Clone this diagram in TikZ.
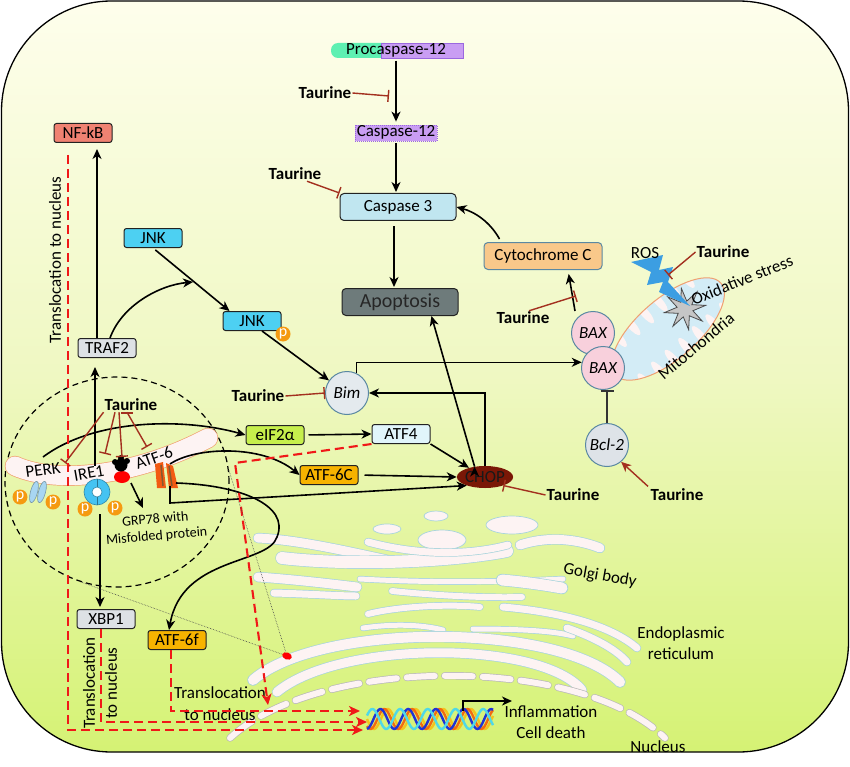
\documentclass[tikz,border=0pt]{standalone}
\usepackage{fontspec}
\setmainfont{Carlito}
\usetikzlibrary{arrows.meta,shapes.geometric}

\definecolor{cellTop}{HTML}{FEFEEC}
\definecolor{cellMid}{HTML}{EFF8C2}
\definecolor{cellBot}{HTML}{D5F274}
\definecolor{boxline}{HTML}{222222}
\definecolor{inhib}{HTML}{A3301F}
\definecolor{tred}{HTML}{F01818}
\definecolor{nfkb}{HTML}{F08272}
\definecolor{greybox}{HTML}{DDE1E5}
\definecolor{jnk}{HTML}{4DD0F2}
\definecolor{porange}{HTML}{F59A10}
\definecolor{casp3}{HTML}{C0E6F0}
\definecolor{apop}{HTML}{6E7B7B}
\definecolor{cytc}{HTML}{F9C88A}
\definecolor{molline}{HTML}{5A88A2}
\definecolor{bax}{HTML}{F8D0DC}
\definecolor{bcl}{HTML}{DEE3E8}
\definecolor{bim}{HTML}{E4EAEE}
\definecolor{chop}{HTML}{7A1706}
\definecolor{eif}{HTML}{C6EF4C}
\definecolor{atf4}{HTML}{E1F5FB}
\definecolor{atf6}{HTML}{F7B300}
\definecolor{procgreen}{HTML}{5EF0B2}
\definecolor{procpurple}{HTML}{C99DF3}
\definecolor{procline}{HTML}{9B68DF}
\definecolor{golgifill}{HTML}{FDF3F3}
\definecolor{golgiline}{HTML}{A8D4DC}
\definecolor{erline}{HTML}{F0A070}
\definecolor{mito}{HTML}{D3ECF6}
\definecolor{rosblue}{HTML}{3C9EE2}
\definecolor{perkblue}{HTML}{A8D6F2}
\definecolor{ireblue}{HTML}{45C3F2}
\definecolor{atforange}{HTML}{F25A12}
\definecolor{strandY}{HTML}{F5C21B}
\definecolor{strandO}{HTML}{F26A10}
\definecolor{strandB}{HTML}{1F32D6}
\definecolor{strandC}{HTML}{4FD8E8}

\tikzset{
  >={Stealth[length=10pt,width=9pt,inset=3pt]},
  base font/.style={font=\fontsize{17}{19}\selectfont},
  gene/.style={base font, draw=boxline, line width=1pt, fill=#1,
               rounded corners=2.5pt, minimum width=58pt,
               minimum height=19pt, inner sep=1pt},
  gene/.default=white,
  big gene/.style={gene=#1, minimum width=116pt, minimum height=27pt,
               rounded corners=4pt},
  molecule/.style={circle, draw=molline, line width=1pt, fill=#1,
               minimum size=43pt, inner sep=0pt,
               font=\fontsize{17}{19}\selectfont\itshape},
  taurine/.style={font=\fontsize{17}{19}\selectfont\bfseries, inner sep=1pt},
  phospho/.style={circle, fill=porange, text=white, inner sep=0pt,
               minimum size=15pt, font=\fontsize{16}{16}\selectfont},
  note/.style={base font, inner sep=0pt, align=center},
  act/.style={->, line width=1.6pt, draw=black},
  promote/.style={->, line width=1.4pt, draw=inhib},
  inhibit/.style={-{Bar[width=12pt]}, line width=1.4pt, draw=inhib},
  block/.style={-{Bar[width=13pt]}, line width=1.5pt, draw=black!80},
  transloc/.style={-{Stealth[length=11pt,width=10pt,inset=3pt]}, draw=tred,
               line width=2.1pt, dash pattern=on 9pt off 5pt},
  cisterna/.style={draw=golgiline, double=golgifill, double distance=#1,
               line width=0.7pt, line cap=round},
}

\begin{document}
\begin{tikzpicture}[x=1pt,y=-1pt]
\useasboundingbox (0,0) rectangle (850,767);
% cell
\path[top color=cellTop, bottom color=cellBot, middle color=cellMid,
      rounded corners=110pt] (1.5,1) rectangle (848.5,752);
\draw[line width=1.3pt, rounded corners=110pt] (1.5,1) rectangle (848.5,752);

% golgi body
\foreach \gx/\gy/\rx/\ry in {436/516/12/5, 387/529/14/5, 442/540/24/10, 512/525/26/9}
  \filldraw[fill=golgifill, draw=golgiline, line width=0.7pt]
    (\gx,\gy) ellipse [x radius=\rx pt, y radius=\ry pt];
\draw[cisterna=9pt] (258,538) .. controls (300,540) and (350,552) .. (397,562);
\draw[cisterna=12pt] (282,558) .. controls (350,566) and (450,562) .. (507,551);
\draw[cisterna=7pt] (368,542) .. controls (420,556) and (470,555) .. (508,545);
\draw[cisterna=9pt] (520,545) .. controls (550,535) and (580,540) .. (600,548);
\draw[cisterna=9pt] (258,577) .. controls (300,580) and (340,585) .. (357,587);
\draw[cisterna=5pt] (360,579) .. controls (430,583) and (500,582) .. (563,579);
\draw[cisterna=7pt] (274,593) .. controls (310,594) and (340,596) .. (356,596);
\draw[cisterna=6pt] (392,591) .. controls (440,596) and (490,598) .. (522,597);
\draw[cisterna=11pt] (502,580) .. controls (525,582) and (545,585) .. (562,588);
% endoplasmic reticulum
\draw[cisterna=6pt] (368,614) .. controls (400,606) and (450,604) .. (480,607);
\draw[cisterna=7pt] (503,607) .. controls (560,612) and (610,625) .. (637,648);
\draw[cisterna=5pt] (363,628) .. controls (390,624) and (420,624) .. (443,630);
\draw[cisterna=5pt] (473,629) .. controls (510,629) and (550,630) .. (573,636);
\draw[cisterna=7pt] (567,628) .. controls (590,636) and (615,648) .. (627,662);
\draw[cisterna=10pt] (253,680) .. controls (320,622) and (560,622) .. (620,682);
\draw[cisterna=9pt] (277,692) .. controls (340,640) and (540,640) .. (582,690);
% nucleus
\draw[cisterna=6pt, draw=gray!55, dash pattern=on 28pt off 10pt]
  (230,738) .. controls (320,655) and (580,655) .. (665,738);
\foreach \col/\ph in {strandY/0, strandO/45, strandB/95, strandC/200}
  \draw[\col, line width=2.4pt]
    plot[domain=367:493, samples=90] (\x, {719+10*sin(13*(\x-367)+\ph)});
\coordinate (DNAa) at (360,711);
\coordinate (DNAb) at (367,722);
\coordinate (DNAc) at (363,730);
\coordinate (Gene) at (463,711);
\node[ellipse, fill=red, minimum width=10pt, minimum height=7pt,
      inner sep=0pt, rotate=-20] (ERdot) at (287,656) {};

% mitochondria
\begin{scope}[shift={(668,329)}, rotate=41]
  \fill[mito] (0,0) ellipse [x radius=70pt, y radius=30pt];
  \begin{scope}
    \clip (0,0) ellipse [x radius=70pt, y radius=30pt];
    \foreach \u in {-52,-34,...,56}
      \fill[golgifill] (\u,27) ellipse [x radius=4pt, y radius=13pt];
    \foreach \u in {-43,-25,...,47}
      \fill[golgifill] (\u,-27) ellipse [x radius=4pt, y radius=13pt];
  \end{scope}
  \draw[erline, line width=1pt] (0,0) ellipse [x radius=70pt, y radius=30pt];
\end{scope}
\node[star, star points=8, star point ratio=2.6, fill=gray!45,
      draw=gray!60!black, line width=0.8pt, minimum size=42pt,
      inner sep=0pt, rotate=10] (Stress) at (685,309) {};
\fill[rosblue] (631,262) -- (663,255) -- (659,270) -- (673,267) -- (668,282)
  -- (690,306) -- (659,292) -- (663,282) -- (647,285) -- (651,272) -- cycle;

% ER stress sensors
\node[ellipse, draw, dash pattern=on 6pt off 4pt, line width=1.2pt,
      minimum width=224pt, minimum height=210pt, inner sep=0pt] (Zoom) at (117,482) {};
\draw[cisterna=19pt, draw=erline] (15,466) .. controls (60,486) and (140,474) .. (208,438);
\foreach \px in {34,42}
  \filldraw[fill=perkblue, draw=perkblue!70!black, line width=0.6pt,
            rotate around={-15:(\px,492)}] (\px,492) ellipse [x radius=3.5pt, y radius=11pt];
\filldraw[fill=ireblue, draw=ireblue!70!black, line width=0.6pt] (97,492) circle [radius=13pt];
\filldraw[fill=white, draw=ireblue!70!black, line width=0.6pt] (97,492) circle [radius=5pt];
\draw[ireblue!60!black, line width=0.6pt] (97,479) -- (97,487) (97,497) -- (97,505);
\fill[red] (122,477) ellipse [x radius=8pt, y radius=6pt];
\fill[black] (121,465) circle [radius=6.5pt] (115,462) circle [radius=3pt]
  (127,461) circle [radius=3pt] (121,458) circle [radius=3pt];
\fill[atforange] (155,464) -- (163,462) -- (166,488) -- (157,488) -- cycle;
\fill[atforange] (166,463) -- (173,466) -- (178,488) -- (169,488) -- cycle;
\draw[brown!70!black, line width=1.5pt] (161,465) -- (163,486) (169,466) -- (172,486);
\node[phospho] (P1) at (20,497) {p};
\node[phospho] (P2) at (53,502) {p};
\node[phospho] (P3) at (85,509) {p};
\node[phospho] (P4) at (115,508) {p};
\node[note, rotate=8] (PERK) at (43,470) {PERK};
\node[note, rotate=10] (IRE1) at (89,473) {IRE1};
\node[note, rotate=20] (ATF6) at (154,458) {ATF-6};
\node[note, font=\fontsize{14}{17}\selectfont, rotate=5] (GRP) at (156,528)
  {GRP78 with\\Misfolded protein};
\coordinate (PERKa) at (43,457);
\coordinate (IREtop) at (95,466);
\coordinate (IREbot) at (100,514);
\coordinate (GRPa) at (131,483);
\coordinate (GRPb) at (143,508);
\coordinate (ATF6a) at (170,464);
\coordinate (ATF6b) at (170,486);
\coordinate (ATF6c) at (176,483);

% signalling nodes
\fill[procgreen, rounded corners=7pt] (331,43) rectangle (392,58);
\filldraw[fill=procpurple, draw=procline, line width=0.8pt] (381,43) rectangle (463,58);
\node[base font, inner sep=0pt, minimum width=132pt, minimum height=15pt] (Proc) at (396,50) {Procaspase-12};
\node[gene=procpurple, draw=procline, densely dotted, line width=0.8pt,
      rounded corners=0pt, minimum width=82pt, minimum height=16pt,
      text height=11pt, text depth=3pt] (Casp12) at (396,133) {Caspase-12};
\node[big gene=casp3] (Casp3) at (398,207) {Caspase 3};
\node[big gene=apop, font=\fontsize{20}{22}\selectfont, text=black!85] (Apop) at (400,302) {Apoptosis};
\node[big gene=cytc, draw=molline, minimum width=118pt] (CytC) at (543,256) {Cytochrome C};
\node[molecule=bax] (BAXa) at (593,333) {BAX};
\node[molecule=bax] (BAXb) at (603,368) {BAX};
\node[molecule=bcl] (Bcl2) at (607,445) {Bcl-2};
\node[molecule=bim] (Bim) at (347,393) {Bim};
\node[ellipse, fill=chop, minimum width=54pt, minimum height=22pt, inner sep=0pt,
      base font, text height=10pt, text depth=0pt, text=black!90] (CHOP) at (485,477) {CHOP};
\node[gene=nfkb] (NFkB) at (83,133) {NF-kB};
\node[gene=greybox] (TRAF2) at (107,348) {TRAF2};
\node[gene=jnk] (JNK) at (153,238) {JNK};
\node[gene=jnk] (JNKp) at (252,321) {JNK};
\node[phospho] (JNKP) at (283,334) {p};
\node[gene=eif] (eIF) at (275,435) {eIF2α};
\node[gene=atf4] (ATF4) at (401,434) {ATF4};
\node[gene=atf6] (ATF6C) at (329,475) {ATF-6C};
\node[gene=greybox] (XBP1) at (106,619) {XBP1};
\node[gene=atf6] (ATF6f) at (177,640) {ATF-6f};
\coordinate (JNKmid) at (193,282);

\node[taurine] (T1) at (325,93) {Taurine};
\node[taurine] (T2) at (295,174) {Taurine};
\node[taurine] (T3) at (258,396) {Taurine};
\node[taurine] (T4) at (523,318) {Taurine};
\node[taurine] (T5) at (723,252) {Taurine};
\node[taurine] (T6) at (573,495) {Taurine};
\node[taurine] (T7) at (677,495) {Taurine};
\node[taurine] (T8) at (131,405) {Taurine};
\coordinate (c1) at (389,96);
\coordinate (c4) at (576,296);
\coordinate (c5) at (668,275);
\coordinate (iPERK) at (65,463);
\coordinate (iIRE) at (105,454);
\coordinate (iGRP) at (122,457);
\coordinate (iATF) at (147,447);

% labels
\node[note] (ROS) at (645,253) {ROS};
\node[note, rotate=22] (OxS) at (742,280) {Oxidative stress};
\node[note, rotate=40] (Mito) at (696,346) {Mitochondria};
\node[note, rotate=-10] (Golgi) at (600,576) {Golgi body};
\node[note, font=\fontsize{17}{21}\selectfont] (ER) at (681,643) {Endoplasmic\\reticulum};
\node[note] (Nuc) at (658,747) {Nucleus};
\node[note, font=\fontsize{17}{21}\selectfont] (Infl) at (551,722) {Inflammation\\Cell death};
\node[note, rotate=90] (TrNF) at (55,260) {Translocation to nucleus};
\node[note, rotate=90, font=\fontsize{17}{22}\selectfont] (TrXBP) at (100,683) {Translocation\\to nucleus};
\node[note, font=\fontsize{17}{22}\selectfont] (TrATF) at (220,704) {Translocation\\to nucleus};

% pathways
\path[act] (Proc.south) edge[shorten <=3pt, shorten >=3pt] (Proc.south |- Casp12.north)
           (Casp12.south) edge[shorten <=2pt, shorten >=1pt] (Casp12.south |- Casp3.north)
           ([xshift=-4pt]Casp3.south) edge[shorten <=5pt, shorten >=1pt] ([xshift=-4pt]Casp3.south |- Apop.north)
           ([xshift=-18pt]BAXa.north) edge[shorten >=4pt] ([xshift=25pt]CytC.south)
           (JNK.south) edge[shorten <=3pt] ([xshift=7pt]JNKp.north west)
           ([xshift=10pt]JNKp.south) edge (Bim.145)
           ([xshift=-10pt]TRAF2.north) edge[shorten >=6pt] ([xshift=14pt]NFkB.south)
           (IREtop) edge[shorten >=9pt] (IREtop |- TRAF2.south)
           (IREbot) edge[shorten >=2pt] (IREbot |- XBP1.north)
           (GRPa) edge (GRPb)
           (eIF.east) edge[shorten <=4pt] (ATF4.west)
           (ATF4.south east) edge (CHOP.150)
           (ATF6C.east) edge[shorten <=6pt] (CHOP.west)
           (CHOP.135) edge (Apop.-24);
\draw[act] (CytC.north west) ++(16,-3) .. controls (490,222) and (475,212) .. (Casp3.east);
\draw[act] (Bim.65) |- (BAXb.165);
\draw[act] (CHOP.north) |- (Bim.east);
\draw[act] ([xshift=3pt]TRAF2.north) .. controls (122,305) and (160,285) .. (JNKmid);
\draw[act] (PERKa) .. controls (95,418) and (185,418) .. (eIF.west);
\draw[act] (ATF6a) .. controls (195,447) and (262,444) .. (ATF6C.west);
\draw[act] (ATF6b) -- (170,503) -- (CHOP.205);
\draw[act] (ATF6c) .. controls (240,485) and (290,505) .. (277,537)
  .. controls (268,565) and (182,556) .. ([xshift=-8pt]ATF6f.north);
\draw[act, line width=1.3pt] (Gene) -- (463,701) -- (512,701);
\draw[block] (Bcl2.north) -- (Bcl2.north |- BAXb.south);

% taurine
\path[inhibit] (T1.east) edge (c1)
               ([xshift=12pt]T2.south) edge (Casp3.north west)
               (T3.east) edge (Bim.west)
               (T4.50) edge (c4)
               (T5.west) edge (c5)
               (T6.west) edge (CHOP.-25)
               (T8.south west) edge (iPERK)
               ([xshift=-16pt]T8.south) edge (iIRE)
               ([xshift=-12pt]T8.south) edge (iGRP)
               ([xshift=-4pt]T8.south) edge (iATF);
\draw[promote, shorten <=2pt] (T7.north west) -- (Bcl2.-50);

% translocation to nucleus
\draw[transloc, shorten <=12pt] ([xshift=-15pt]NFkB.south) |- (DNAc);
\draw[transloc] ([xshift=-5pt]XBP1.south) |- (DNAb);
\draw[transloc] ([xshift=-6pt]ATF6f.south) |- (DNAa);
\draw[transloc] (ATF4.south west) -- (235,463) -- (268,705);
\path[draw=black!70, line width=0.6pt, densely dotted]
  (Zoom.-110) edge (ERdot) (Zoom.6) edge (ERdot);
\end{tikzpicture}
\end{document}
